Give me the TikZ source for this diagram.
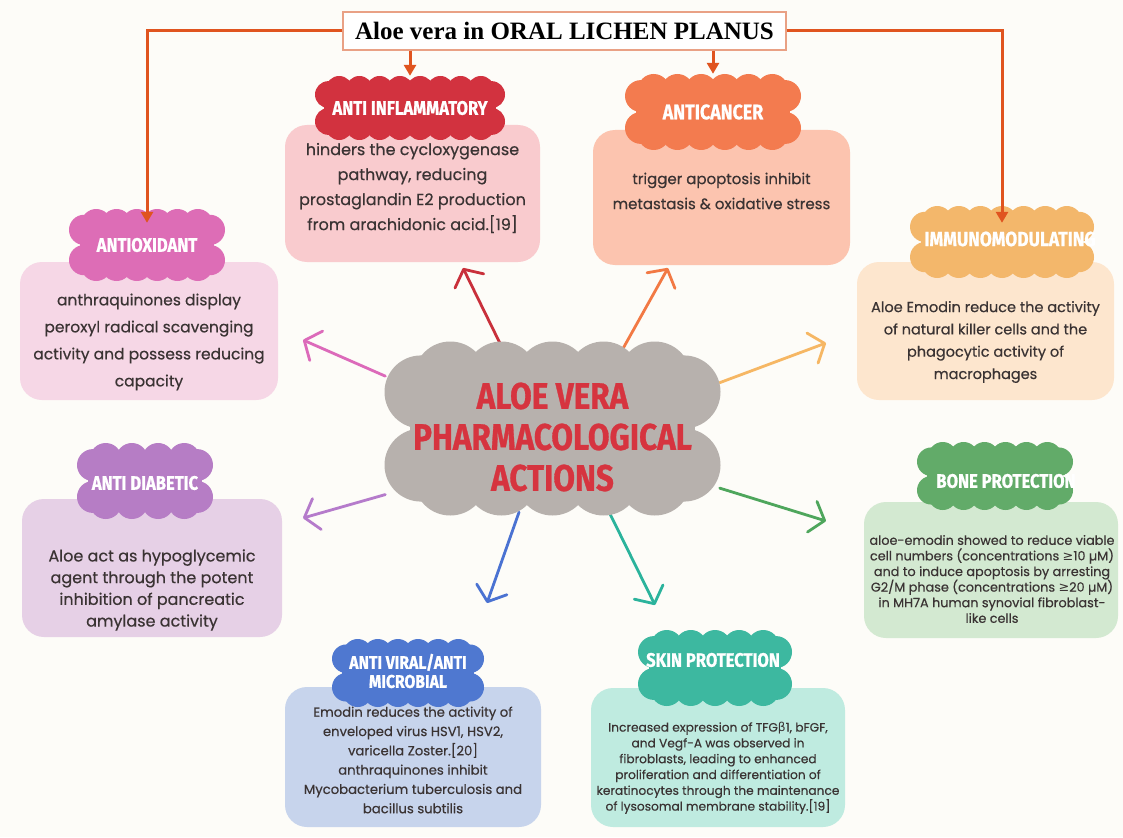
\documentclass[tikz,border=0pt]{standalone}
\usepackage{fontspec}
\setmainfont{Poppins}[FakeBold=0.45]
\newfontfamily\headfont{Fira Sans}[FakeStretch=0.85, BoldFeatures={FakeBold=0.8}]
\newfontfamily\titlefont{Liberation Serif}
\newfontfamily\symfont{DejaVu Sans}
\usetikzlibrary{arrows.meta}

\definecolor{paper}{HTML}{FDFCF8}
\definecolor{ink}{HTML}{3A3333}
\definecolor{titleBorder}{HTML}{E9A185}
\definecolor{linkOrange}{HTML}{E0541F}
\definecolor{coreGrey}{HTML}{B7B1AD}
\definecolor{coreRed}{HTML}{D6343F}
\definecolor{infCloud}{HTML}{D2323F}\definecolor{infBox}{HTML}{F9CBCE}\definecolor{infLine}{HTML}{C9303B}
\definecolor{canCloud}{HTML}{F37B4F}\definecolor{canBox}{HTML}{FCC4AF}\definecolor{canLine}{HTML}{F27944}
\definecolor{oxCloud}{HTML}{DD6DB6}\definecolor{oxBox}{HTML}{F6D7E6}\definecolor{oxLine}{HTML}{DC6ABA}
\definecolor{imCloud}{HTML}{F3B76B}\definecolor{imBox}{HTML}{FDE6CE}\definecolor{imLine}{HTML}{F6B764}
\definecolor{diaCloud}{HTML}{B67DC5}\definecolor{diaBox}{HTML}{E6D0E6}\definecolor{diaLine}{HTML}{B57BCB}
\definecolor{boneCloud}{HTML}{62AB69}\definecolor{boneBox}{HTML}{D3E9D1}\definecolor{boneLine}{HTML}{4EA65C}
\definecolor{virCloud}{HTML}{4F78D0}\definecolor{virBox}{HTML}{C7D4EC}\definecolor{virLine}{HTML}{4A72D2}
\definecolor{skinCloud}{HTML}{3DB8A0}\definecolor{skinBox}{HTML}{BFEBE0}\definecolor{skinLine}{HTML}{2BB39C}

% scalloped cloud: centre x, centre y, half width, half height, colour
\newcommand\puffs[5]{%
  \begin{scope}[shift={(#1,#2)}]
    \pgfmathsetmacro\pr{0.42*#4}
    \pgfmathsetmacro\xa{#3-1.8*\pr}
    \pgfmathtruncatemacro\nt{max(1,round(2*\xa/(1.45*\pr)))}
    \fill[#5] ({-#3+0.7*\pr},{-#4+\pr}) rectangle ({#3-0.7*\pr},{#4-\pr});
    \foreach \k in {0,...,\nt}{
      \pgfmathsetmacro\xx{-\xa+2*\xa*\k/\nt}
      \fill[#5] (\xx,{-#4+\pr}) circle[radius=\pr];
      \fill[#5] (\xx,{#4-\pr}) circle[radius=\pr];
    }
    \foreach \s in {-1,1}{
      \fill[#5] ({\s*(#3-\pr)},{-0.42*#4}) circle[radius=\pr];
      \fill[#5] ({\s*(#3-\pr)},{0.42*#4}) circle[radius=\pr];
    }
  \end{scope}}

\begin{document}
\begin{tikzpicture}[x=1pt,y=-1pt,
  box/.style={rounded corners=22pt, inner sep=0pt, draw=none},
  head/.style={text=white, font=\headfont\bfseries\fontsize{19.5}{19}\selectfont, align=center, inner sep=0pt},
  body/.style={text=ink, align=center, inner sep=0pt},
  spoke/.style={line width=2.8pt, line cap=round, line join=round, -{Straight Barb[length=13pt,width=32pt,round]}},
  conn/.style={draw=linkOrange, line width=3pt, -{Triangle[length=11pt,width=12pt]}}]

\fill[paper] (0,0) rectangle (1123,837);
\useasboundingbox (0,0) rectangle (1123,837);

% description boxes
\node[box, fill=infBox,  minimum width=255pt, minimum height=137pt] (bInf)  at (412.5,193.5) {};
\node[box, fill=canBox,  minimum width=257pt, minimum height=135pt] (bCan)  at (721.5,197.5) {};
\node[box, fill=oxBox,   minimum width=258pt, minimum height=138pt] (bOx)   at (149,331) {};
\node[box, fill=imBox,   minimum width=257pt, minimum height=138pt] (bIm)   at (985.5,331) {};
\node[box, fill=diaBox,  minimum width=260pt, minimum height=138pt] (bDia)  at (152,568) {};
\node[box, fill=boneBox, minimum width=254pt, minimum height=136pt] (bBone) at (991,570) {};
\node[box, fill=virBox,  minimum width=256pt, minimum height=140pt] (bVir)  at (413,757) {};
\node[box, fill=skinBox, minimum width=254pt, minimum height=139pt] (bSkin) at (718,757.5) {};

% central topic
\node[inner sep=0pt, minimum width=334pt, minimum height=150pt] (core) at (552.5,437) {};

% spoke tips
\coordinate (pInf)  at (463,268);
\coordinate (pCan)  at (668,268);
\coordinate (pOx)   at (303,340);
\coordinate (pIm)   at (826,343);
\coordinate (pDia)  at (303,518);
\coordinate (pBone) at (826,521);
\coordinate (pVir)  at (487,603);
\coordinate (pSkin) at (655,605);

\draw[spoke, infLine]  (core.120) -- (pInf);
\draw[spoke, canLine]  (core.50)  -- (pCan);
\draw[spoke, oxLine]   (core.160) -- (pOx);
\draw[spoke, imLine]   (core.18)  -- (pIm);
\draw[spoke, diaLine]  (core.199) -- (pDia);
\draw[spoke, boneLine] (core.343) -- (pBone);
\draw[spoke, virLine]  (core.246) -- (pVir);
\draw[spoke, skinLine] (core.307) -- (pSkin);

\puffs{552.5}{428.5}{168}{87}{coreGrey}
\node[text=coreRed, align=center, inner sep=0pt,
      font=\headfont\bfseries\fontsize{37}{41}\selectfont] (coreText) at (552.5,437)
      {ALOE VERA\\PHARMACOLOGICAL\\ACTIONS};

% headings
\puffs{410}{108}{95}{32}{infCloud}
\node[head, minimum width=190pt, minimum height=64pt] (hInf) at (410,108) {ANTI INFLAMMATORY};
\puffs{713}{112}{88}{38}{canCloud}
\node[head, font=\headfont\bfseries\fontsize{21}{21}\selectfont, minimum width=176pt, minimum height=76pt] (hCan) at (713,112) {ANTICANCER};
\puffs{147}{245}{78}{36}{oxCloud}
\node[head, minimum width=156pt, minimum height=72pt] (hOx) at (147,245) {ANTIOXIDANT};
\puffs{1002}{242}{92}{36}{imCloud}
\node[head, font=\headfont\bfseries\fontsize{20.5}{21}\selectfont, minimum width=184pt, minimum height=72pt] (hIm) at (1010,239) {IMMUNOMODULATING};
\puffs{145}{481}{68}{38}{diaCloud}
\node[head, minimum width=136pt, minimum height=76pt] (hDia) at (145,483) {ANTI DIABETIC};
\puffs{995}{476}{78}{34}{boneCloud}
\node[head, minimum width=156pt, minimum height=68pt] (hBone) at (1006,481) {BONE PROTECTION};
\puffs{408}{673}{76}{34}{virCloud}
\node[head, font=\headfont\bfseries\fontsize{18.5}{19}\selectfont, minimum width=152pt, minimum height=68pt] (hVir) at (408,671) {ANTI VIRAL/ANTI\\MICROBIAL};
\puffs{715}{668}{77}{38}{skinCloud}
\node[head, minimum width=154pt, minimum height=76pt] (hSkin) at (713,660) {SKIN PROTECTION};

% descriptions
\node[body, font=\fontsize{16}{25}\selectfont] (tInf) at (412.5,188)
  {hinders the cycloxygenase\\pathway, reducing\\prostaglandin E2 production\\from arachidonic acid.[19]};
\node[body, font=\fontsize{15}{25}\selectfont] (tCan) at (721.5,191)
  {trigger apoptosis inhibit\\metastasis \& oxidative stress};
\node[body, font=\fontsize{15.5}{27}\selectfont] (tOx) at (149,342)
  {anthraquinones display\\peroxyl radical scavenging\\activity and possess reducing\\capacity};
\node[body, font=\fontsize{14.5}{22.3}\selectfont] (tIm) at (985.5,342)
  {Aloe Emodin reduce the activity\\of natural killer cells and the\\phagocytic activity of\\macrophages};
\node[body, font=\fontsize{16}{21.7}\selectfont] (tDia) at (152,590)
  {Aloe act as hypoglycemic\\agent through the potent\\inhibition of pancreatic\\amylase activity};
\node[body, font=\fontsize{12.8}{15.6}\selectfont] (tBone) at (992,579)
  {aloe-emodin showed to reduce viable\\cell numbers (concentrations {\symfont ≥}10 µM)\\and to induce apoptosis by arresting\\G2/M phase (concentrations {\symfont ≥}20 µM)\\in MH7A human synovial fibroblast-\\like cells};
\node[body, font=\fontsize{13.2}{19.3}\selectfont] (tVir) at (413,760)
  {Emodin reduces the activity of\\enveloped virus HSV1, HSV2,\\varicella Zoster.[20]\\anthraquinones inhibit\\Mycobacterium tuberculosis and\\bacillus subtilis};
\node[body, font=\fontsize{12.2}{15.8}\selectfont] (tSkin) at (718,768)
  {Increased expression of TFG{\symfont β}1, bFGF,\\and Vegf-A was observed in\\fibroblasts, leading to enhanced\\proliferation and differentiation of\\keratinocytes through the maintenance\\of lysosomal membrane stability.[19]};

% title and its links
\node[draw=titleBorder, line width=1.2pt, fill=white, minimum width=443pt, minimum height=38pt,
      inner sep=0pt, font=\titlefont\bfseries\fontsize{25}{25}\selectfont] (title) at (564.5,31)
      {Aloe vera in ORAL LICHEN PLANUS};
\draw[conn, shorten >=-14pt] (title.west) -| (hOx.north);
\draw[conn, shorten >=-20pt] (title.east) -| ([xshift=-8pt]hIm.north);
\draw[conn] (hInf.north |- title.south) -- (hInf.north);
\draw[conn] (hCan.north |- title.south) -- (hCan.north);
\end{tikzpicture}
\end{document}
